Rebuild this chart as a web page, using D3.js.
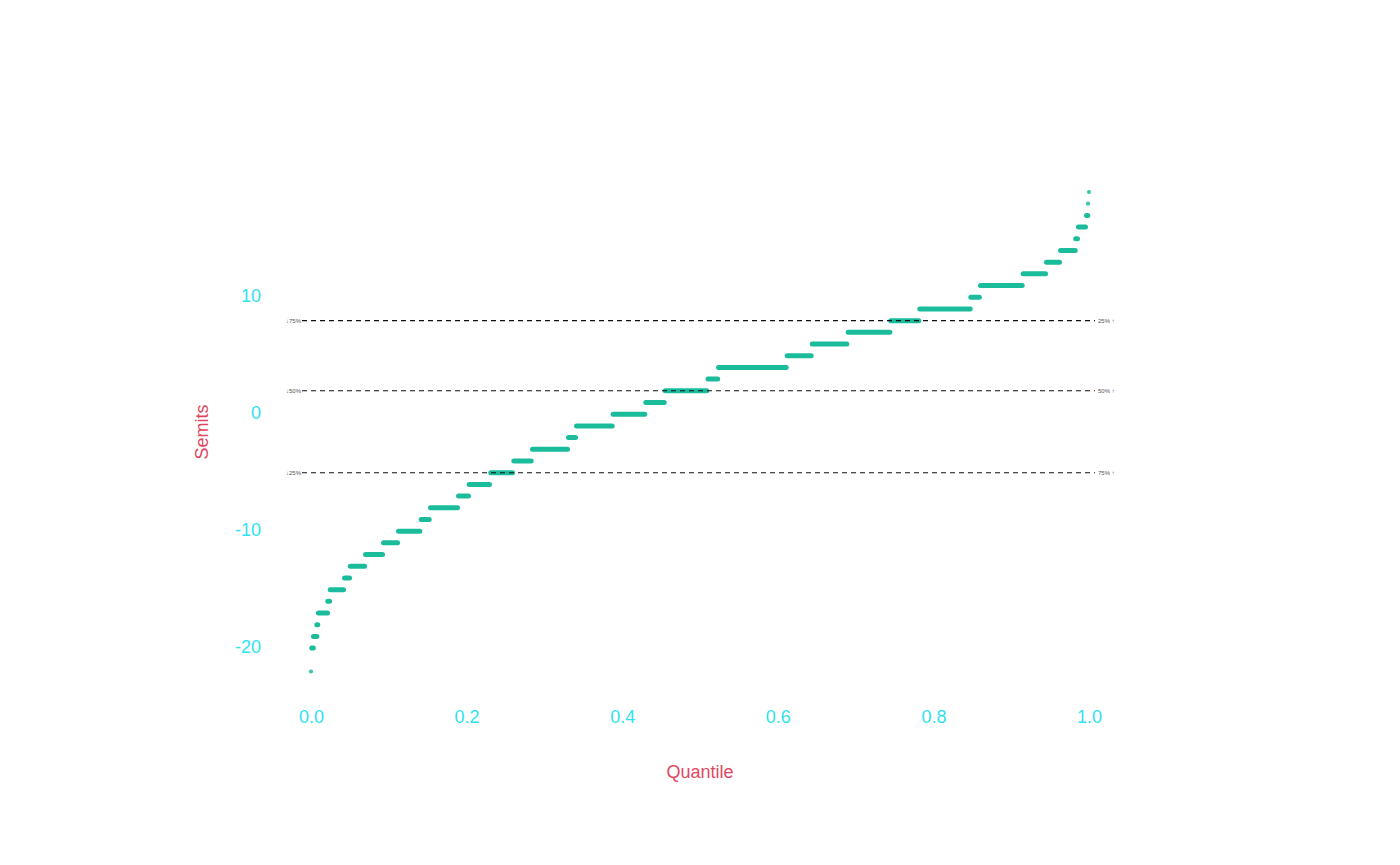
<!DOCTYPE html>
<html>
<head>
<meta charset="utf-8">
<script src="https://cdn.jsdelivr.net/npm/d3@7"></script>
<style>
  html, body { margin: 0; padding: 0; background: #ffffff; }
  svg { display: block; font-family: "Liberation Sans", Arial, sans-serif; }
</style>
</head>
<body>
<svg id="chart" width="1400" height="865"></svg>
<script>
// Semitone values and the quantile span each value occupies
const semits   = [-22, -20, -19, -18, -17, -16, -15, -14, -13, -12, -11, -10, -9, -8, -7, -6, -5, -4, -3, -2, -1, 0, 1, 2, 3, 4, 5, 6, 7, 8, 9, 10, 11, 12, 13, 14, 15, 16, 17, 18, 19];
const qStart   = [0.000, 0.001, 0.0032, 0.0075, 0.0096, 0.0216, 0.0247, 0.0431, 0.0504, 0.0701, 0.0932, 0.1125, 0.1416, 0.1536, 0.1896, 0.2033, 0.2311, 0.2607, 0.2847, 0.3310, 0.3413, 0.3884, 0.4303, 0.4553, 0.5103, 0.5238, 0.6121, 0.6442, 0.6905, 0.7452, 0.7825, 0.8481, 0.8605, 0.9154, 0.9454, 0.9634, 0.9830, 0.9865, 0.9968, 0.9987, 1.000];
const qEnd     = [0.000, 0.003, 0.0075, 0.0087, 0.0212, 0.0238, 0.0418, 0.0495, 0.0688, 0.0919, 0.1112, 0.1398, 0.1519, 0.1883, 0.2024, 0.2294, 0.2590, 0.2830, 0.3297, 0.3400, 0.3871, 0.4290, 0.4540, 0.5087, 0.5227, 0.6108, 0.6429, 0.6887, 0.7440, 0.7812, 0.8473, 0.8590, 0.9141, 0.9441, 0.9621, 0.9823, 0.9852, 0.9955, 0.9984, 0.9987, 1.000];

const xTicks = [0.0, 0.2, 0.4, 0.6, 0.8, 1.0];
const yTicks = [-20, -10, 0, 10];

// Quartile reference lines
const quartileValues = [-5, 2, 8];
const leftLabels  = ["\u219325%", "\u219350%", "\u219375%"];
const rightLabels = ["75% \u2191", "50% \u2191", "25% \u2191"];

const svg = d3.select("#chart");

const x = d3.scaleLinear().domain([0, 1]).range([311, 1089]);
const y = d3.scaleLinear().domain([-22, 19]).range([671.5, 192]);

const tickColor = "#2ee3ee";
const titleColor = "#e0485f";
const markColor = "#1abc9c";
const font = "Liberation Sans, Arial, sans-serif";

// Axes (labels only, no lines)
const xAxis = d3.axisBottom(x).tickValues(xTicks).tickFormat(d3.format(".1f")).tickSize(0).tickPadding(0);
const gx = svg.append("g").attr("transform", "translate(0,710)").call(xAxis);
gx.select(".domain").remove();
gx.selectAll("text").attr("fill", tickColor).attr("font-size", 18).attr("font-family", font);

const yAxis = d3.axisLeft(y).tickValues(yTicks).tickFormat(d => String(d)).tickSize(0).tickPadding(0);
const gy = svg.append("g").attr("transform", "translate(261,-1.5)").call(yAxis);
gy.select(".domain").remove();
gy.selectAll("text").attr("fill", tickColor).attr("font-size", 18).attr("font-family", font);

// Axis titles
svg.append("text").attr("x", 700).attr("y", 777.5).attr("text-anchor", "middle")
  .attr("fill", titleColor).attr("font-size", 18).attr("font-family", font).text("Quantile");
svg.append("text").attr("transform", "translate(207.5,432) rotate(-90)").attr("text-anchor", "middle")
  .attr("fill", titleColor).attr("font-size", 18).attr("font-family", font).text("Semits");

// Data marks
const data = semits.map((s, i) => ({ s, q0: qStart[i], q1: qEnd[i] }));
const bars = data.filter(d => d.q1 > d.q0);
const dots = data.filter(d => d.q1 <= d.q0);

svg.append("g").selectAll("line").data(bars).join("line")
  .attr("x1", d => x(d.q0)).attr("x2", d => x(d.q1))
  .attr("y1", d => y(d.s)).attr("y2", d => y(d.s))
  .attr("stroke", markColor).attr("stroke-width", 5).attr("stroke-linecap", "round");

svg.append("g").selectAll("circle").data(dots).join("circle")
  .attr("cx", d => x(d.q0)).attr("cy", d => y(d.s)).attr("r", 2.1)
  .attr("fill", markColor).attr("fill-opacity", 0.85);

// Quartile lines on top
const qg = svg.append("g");
quartileValues.forEach((v, i) => {
  qg.append("line").attr("x1", 302).attr("x2", 1095)
    .attr("y1", y(v)).attr("y2", y(v))
    .attr("stroke", "#111").attr("stroke-width", 1.1).attr("stroke-dasharray", "5,4");
  qg.append("text").attr("x", 301).attr("y", y(v)).attr("dy", "0.35em")
    .attr("text-anchor", "end").attr("font-size", 6).attr("fill", "#555").attr("font-family", font).text(leftLabels[i]);
  qg.append("text").attr("x", 1098).attr("y", y(v)).attr("dy", "0.35em")
    .attr("text-anchor", "start").attr("font-size", 6).attr("fill", "#555").attr("font-family", font).text(rightLabels[i]);
});
</script>
</body>
</html>
